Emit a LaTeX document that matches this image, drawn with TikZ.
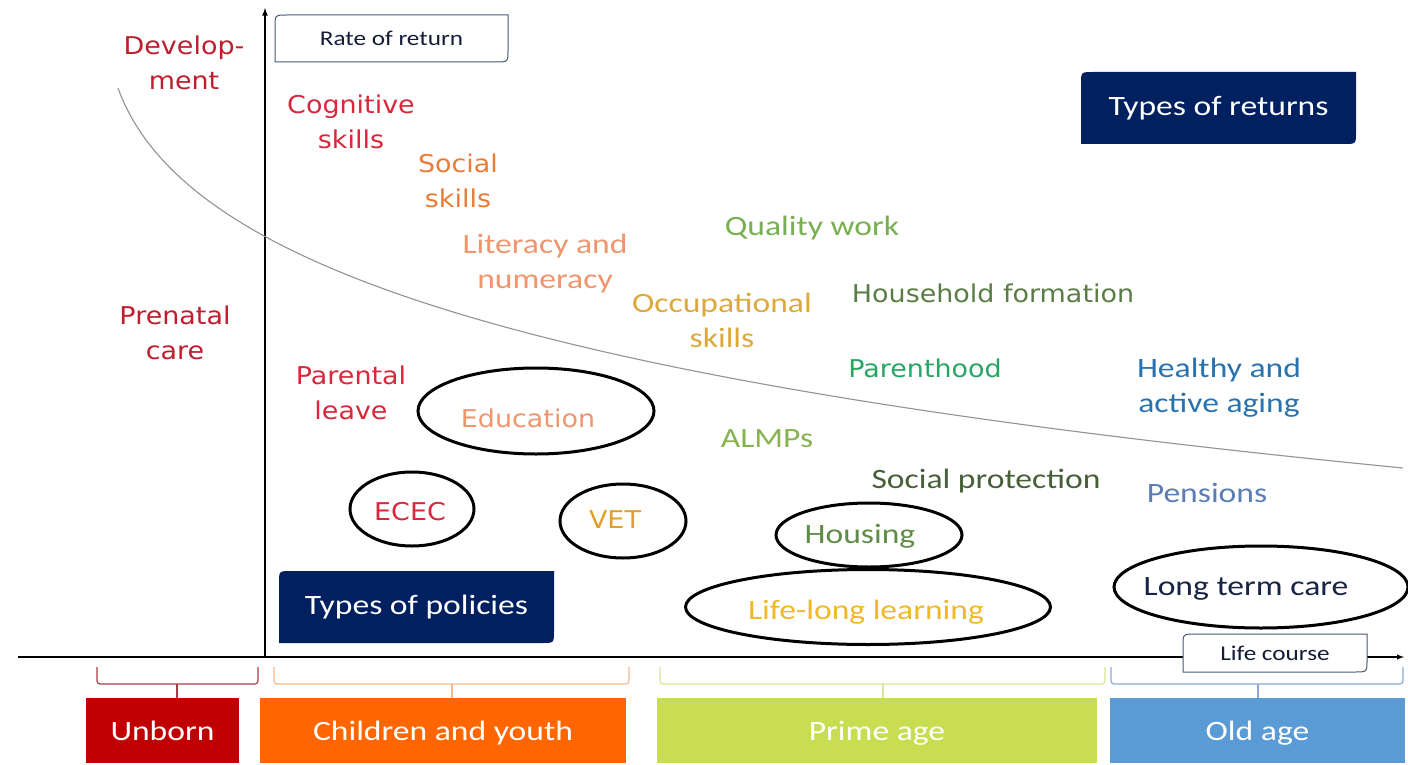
\documentclass[tikz,border=0pt]{standalone}
\usepackage{fontspec}
\setmainfont{Carlito}[FakeStretch=1.2]
\newfontfamily\widefont{DejaVu Sans}[FakeStretch=1.1]
\usepackage{tikz}
\usetikzlibrary{shapes.geometric}

\definecolor{navy}{RGB}{0,32,96}
\definecolor{devred}{RGB}{190,30,45}
\definecolor{cogred}{RGB}{215,40,60}
\definecolor{socorange}{RGB}{232,125,55}
\definecolor{litorange}{RGB}{240,150,110}
\definecolor{occgold}{RGB}{220,170,60}
\definecolor{qualgreen}{RGB}{120,175,80}
\definecolor{hhgreen}{RGB}{90,125,70}
\definecolor{pargreen}{RGB}{40,165,100}
\definecolor{healthblue}{RGB}{40,115,175}
\definecolor{almpgreen}{RGB}{135,180,80}
\definecolor{protgreen}{RGB}{70,95,55}
\definecolor{pensblue}{RGB}{90,125,180}
\definecolor{vetgold}{RGB}{225,160,40}
\definecolor{housgreen}{RGB}{95,140,70}
\definecolor{llgold}{RGB}{240,185,40}
\definecolor{ltcnavy}{RGB}{25,35,70}
\definecolor{unbornfill}{RGB}{192,0,0}
\definecolor{childfill}{RGB}{255,102,0}
\definecolor{primefill}{RGB}{200,222,80}
\definecolor{oldfill}{RGB}{90,155,213}
\definecolor{unbornbr}{RGB}{170,60,70}
\definecolor{childbr}{RGB}{245,185,140}
\definecolor{primebr}{RGB}{215,232,150}
\definecolor{oldbr}{RGB}{140,170,215}
\definecolor{boxline}{RGB}{70,90,120}

% box with two rounded corners (top left, bottom right)
\newcommand{\diagrect}[5]{%
  \path[#1] (#2,#3+12) .. controls (#2,#3) .. (#2+12,#3) -- (#4,#3)
    -- (#4,#5-12) .. controls (#4,#5) .. (#4-12,#5) -- (#2,#5) -- cycle;}

\tikzset{
  ret/.style={font=\fontsize{28}{35}\selectfont, align=center, inner sep=0pt},
  retw/.style={font=\widefont\fontsize{24.5}{35}\selectfont, align=center, inner sep=0pt},
  pol/.style={ellipse, draw=black, line width=3pt, inner sep=0pt},
  smalllbl/.style={font=\fontsize{21}{24}\selectfont, text=ltcnavy!80!black},
  typelbl/.style={font=\fontsize{28}{30}\selectfont, text=white},
  agebox/.style={minimum height=65, inner sep=0pt, text height=22, text depth=3,
    text=white, font=\fontsize{28}{30}\selectfont},
  brace/.style={line width=1.2pt, rounded corners=3},
  axis/.style={line width=1.6pt, -latex}
}

\begin{document}
\begin{tikzpicture}[x=1pt,y=-1pt]
\useasboundingbox (0,0) rectangle (1408,765);
\fill[white] (0,0) rectangle (1408,765);

% axes
\coordinate (O) at (265,657);
\coordinate (ytop) at (265,8);
\coordinate (xleft) at (18,657);
\coordinate (xright) at (1404,657);
\draw[axis] (O) -- (ytop);
\draw[line width=1.4pt, -latex] (xleft) -- (xright);

% return curve
\draw[gray!85, line width=1.1pt] (118,88) .. controls (180,260) and (500,380) .. (1403,468);

% axis boxes
\diagrect{fill=white, draw=boxline, line width=1pt}{275}{15}{508}{62}
\node[smalllbl] (rate) at (391.5,38.5) {Rate of return};
\diagrect{fill=white, draw=boxline, line width=1pt}{1183}{634}{1367}{672}
\node[smalllbl] (life) at (1275,653) {Life course};
\diagrect{fill=navy}{1081}{72}{1356}{144}
\node[typelbl] (treturns) at (1218.5,108) {Types of returns};
\diagrect{fill=navy}{279}{571}{554}{643}
\node[typelbl] (tpolicies) at (416.5,607) {Types of policies};

% returns
\node[retw, text=devred] (dev) at (184,63) {Develop-\\ment};
\node[retw, text=cogred] (cog) at (351,122) {Cognitive\\skills};
\node[retw, text=socorange] (soc) at (458,181) {Social\\skills};
\node[ret, text=litorange] (lit) at (545,264) {Literacy and\\numeracy};
\node[ret, text=qualgreen] (qual) at (812,228) {Quality work};
\node[ret, text=occgold] (occ) at (722,320) {Occupational\\skills};
\node[retw, text=hhgreen] (house) at (993,293) {Household formation};
\node[retw, text=pargreen] (parent) at (925,368) {Parenthood};
\node[ret, text=healthblue] (health) at (1219,388) {Healthy and\\active aging};

% policies
\node[retw, text=devred] (prenatal) at (175,333) {Prenatal\\care};
\node[retw, text=cogred] (leave) at (351,393) {Parental\\leave};
\node[ret, text=almpgreen] (almp) at (767,439) {ALMPs};
\node[ret, text=protgreen] (prot) at (986,481) {Social protection};
\node[ret, text=pensblue] (pens) at (1207,493) {Pensions};

\node[pol, minimum width=236, minimum height=86] (eduring) at (536,411) {};
\node[retw, text=litorange] (edu) at (528,418) {Education};
\node[pol, minimum width=124, minimum height=74] (ececring) at (412,509) {};
\node[retw, text=cogred] (ecec) at (410,512) {ECEC};
\node[pol, minimum width=126, minimum height=74] (vetring) at (623,521) {};
\node[retw, text=vetgold] (vet) at (615,520) {VET};
\node[pol, minimum width=186, minimum height=64] (housring) at (869,535) {};
\node[ret, text=housgreen] (housing) at (860,536) {Housing};
\node[pol, minimum width=365, minimum height=75] (lllring) at (868,607) {};
\node[ret, text=llgold] (lll) at (866,612) {Life-long learning};
\node[pol, minimum width=294, minimum height=82] (ltcring) at (1261,587) {};
\node[ret, text=ltcnavy] (ltc) at (1246,589) {Long term care};

% life stages
\node[agebox, fill=unbornfill, minimum width=153] (unborn) at (162.5,730.5) {Unborn};
\node[agebox, fill=childfill, minimum width=366] (child) at (443,730.5) {Children and youth};
\node[agebox, fill=primefill, minimum width=440] (prime) at (877,730.5) {Prime age};
\node[agebox, fill=oldfill, minimum width=295] (old) at (1257.5,730.5) {Old age};

\draw[brace, draw=unbornbr] (97,667) |- (177,684) -| (258,667);
\draw[brace, draw=unbornbr] (177,684) -- ++(0,14);
\draw[brace, draw=childbr] (274,667) |- (452,684) -| (629,667);
\draw[brace, draw=childbr] (452,684) -- ++(0,14);
\draw[brace, draw=primebr] (660,667) |- (883,684) -| (1105,667);
\draw[brace, draw=primebr] (883,684) -- ++(0,14);
\draw[brace, draw=oldbr] (1111,667) |- (1258,684) -| (1403,667);
\draw[brace, draw=oldbr] (1258,684) -- ++(0,14);
\end{tikzpicture}
\end{document}
